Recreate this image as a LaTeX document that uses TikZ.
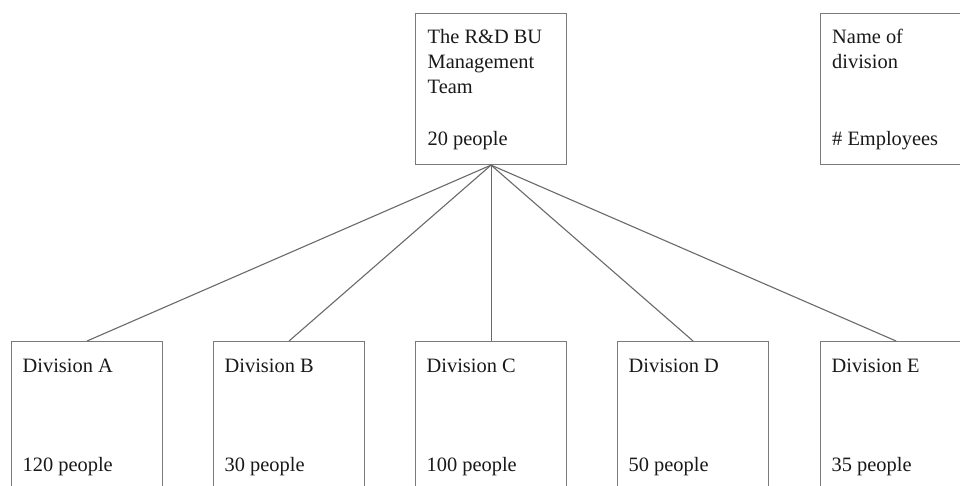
\documentclass[tikz,border=0pt]{standalone}
\usepackage{fontspec}
\setmainfont{Liberation Serif}
\begin{document}
\begin{tikzpicture}[x=1pt,y=-1pt,
  box/.style={draw=boxgray,line width=1.1pt,minimum width=151pt,minimum height=151pt,inner sep=0pt,anchor=north west},
  lbl/.style={anchor=base west,inner sep=0pt,font=\fontsize{20.4}{24}\selectfont,text=black!90},
  link/.style={draw=linegray,line width=1.1pt}]
\definecolor{boxgray}{HTML}{7A7A7A}
\definecolor{linegray}{HTML}{6A6A6A}
\clip (0,0) rectangle (960,486);
\useasboundingbox (0,0) rectangle (960,486);
\fill[white] (0,0) rectangle (960,486);
% boxes
\node[box] (top) at (415,13) {};
\node[box] (legend) at (820,13) {};
\node[box] (a) at (11,341) {};
\node[box] (b) at (213,341) {};
\node[box] (c) at (415,341) {};
\node[box] (d) at (617,341) {};
\node[box] (e) at (820,341) {};
% connectors
\draw[link] (top.south) -- (a.north);
\draw[link] (top.south) -- (b.north);
\draw[link] (top.south) -- (c.north);
\draw[link] (top.south) -- (d.north);
\draw[link] (top.south) -- (e.north);
% texts
\node[lbl] (t1) at (427.5,44) {The R\&D BU};
\node[lbl] (t2) at (427.5,68.7) {Management};
\node[lbl] (t3) at (427.5,93.3) {Team};
\node[lbl] (t4) at (427.5,145.7) {20 people};
\node[lbl] (l1) at (832,44) {Name of};
\node[lbl] (l2) at (832,68.7) {division};
\node[lbl] (l3) at (832,145.7) {\# Employees};
\node[lbl] (a1) at (22.5,372.5) {Division A};
\node[lbl] (a2) at (22.5,471.5) {120 people};
\node[lbl] (b1) at (224.5,372.5) {Division B};
\node[lbl] (b2) at (224.5,471.5) {30 people};
\node[lbl] (c1) at (426.5,372.5) {Division C};
\node[lbl] (c2) at (426.5,471.5) {100 people};
\node[lbl] (d1) at (628.5,372.5) {Division D};
\node[lbl] (d2) at (628.5,471.5) {50 people};
\node[lbl] (e1) at (831.5,372.5) {Division E};
\node[lbl] (e2) at (831.5,471.5) {35 people};
\end{tikzpicture}
\end{document}
